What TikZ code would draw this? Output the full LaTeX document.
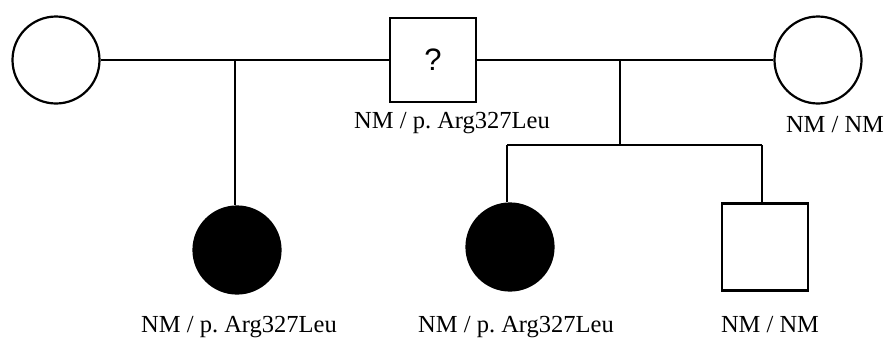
\documentclass[tikz,border=0pt]{standalone}
\usepackage{fontspec}
\setmainfont{Liberation Serif}
\newfontfamily\qfont{Liberation Sans}
\frenchspacing
\begin{document}
\begin{tikzpicture}[x=1pt,y=-1pt,
    male/.style={draw,line width=2.4pt,minimum width=86pt,minimum height=84pt,inner sep=0pt},
    female/.style={draw,circle,line width=2.2pt,minimum size=87pt,inner sep=0pt},
    affected/.style={fill=black},
    geno/.style={anchor=base,inner sep=0pt,font=\fontsize{24.5}{28}\selectfont},
    link/.style={line width=1.3pt}]
  \useasboundingbox (0,0) rectangle (888,338);
  % generation I
  \draw
    (56,60) node[female] (m1){}
    (433,60) node[male,font=\qfont\fontsize{31}{34}\selectfont] (f){?}
    (818,60) node[female] (m2){};
  % generation II
  \draw
    (237,250) node[female,affected] (c1){}
    (510,247) node[female,affected] (c2){}
    (765,247) node[male,minimum height=87pt] (c3){};
  % genotypes
  \node[geno] (gf) at (452,128) {NM / p. Arg327Leu};
  \node[geno] (gm2) at (835,132) {NM / NM};
  \node[geno] (gc1) at (239,332) {NM / p. Arg327Leu};
  \node[geno] (gc2) at (516,332) {NM / p. Arg327Leu};
  \node[geno] (gc3) at (770,332) {NM / NM};
  % lines of descent
  \coordinate (u1) at (235,60);
  \coordinate (u2) at (620,60);
  \coordinate (s2) at (620,145);
  \coordinate (s2a) at (507,145);
  \coordinate (s2b) at (762,145);
  \begin{scope}[link]
    \draw (m1) to (f);
    \draw (f) to (m2);
    \draw (u1) to (c1.north -| u1);
    \draw (u2) to (s2);
    \draw (s2a) to (s2b);
    \draw (s2a) to (c2.north -| s2a);
    \draw (s2b) to (c3.north -| s2b);
  \end{scope}
\end{tikzpicture}
\end{document}
